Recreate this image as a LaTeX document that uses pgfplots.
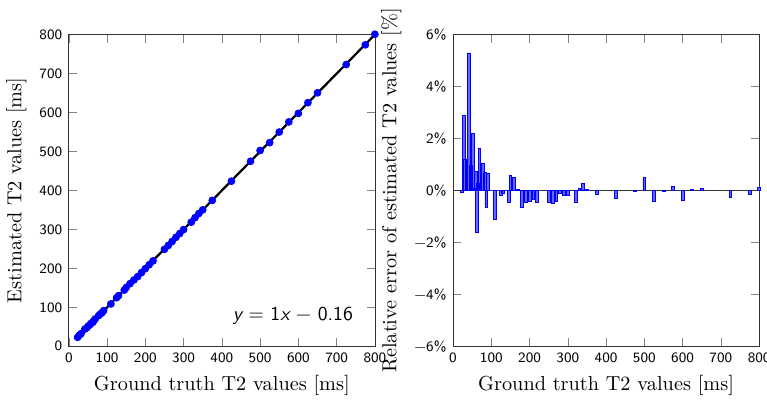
\documentclass[border=0pt]{standalone}
\usepackage{pgfplots}
\usepackage{pgfplotstable}
\pgfplotsset{compat=1.18}
\pgfplotstableread{
x e y
23 -0.09 22.98
28 2.87 28.80
32 1.21 32.39
42 5.29 44.22
47 0.96 47.45
51 2.21 52.13
56 0.09 56.05
59 0.74 59.44
63 -1.62 61.98
65 0.29 65.19
69 1.60 70.10
78 1.03 78.80
83 0.70 83.58
87 -0.65 86.43
91 0.64 91.58
110 -1.12 108.77
125 -0.19 124.76
130 -0.10 129.87
145 -0.45 144.35
150 0.58 150.87
160 0.49 160.78
170 0.05 170.09
180 -0.65 178.83
190 -0.45 189.15
200 -0.41 199.18
210 -0.35 209.27
220 -0.45 219.01
250 -0.46 248.85
260 -0.50 258.70
270 -0.41 268.89
280 -0.12 279.66
290 -0.19 289.45
300 -0.18 299.46
320 -0.45 318.56
330 0.06 330.20
340 0.26 340.88
350 0.03 350.11
375 -0.15 374.44
425 -0.30 423.73
475 -0.04 474.81
500 0.49 502.45
525 -0.44 522.69
550 -0.04 549.78
575 0.15 575.86
600 -0.38 597.72
625 0.04 625.25
650 0.08 650.52
725 -0.26 723.12
775 -0.17 773.68
800 0.10 800.80
}\errtable
\begin{document}
\begin{tikzpicture}
\pgfplotsset{
  every axis/.append style={
    scale only axis,
    width=163pt, height=166pt,
    axis line style={black!80},
    tick align=inside,
    tick style={black!50},
    ticklabel style={font=\fontsize{7.6}{9}\selectfont\sffamily},
    /pgf/number format/assume math mode=true,
    label style={font=\fontsize{10.8}{12.5}\selectfont},
    xmin=0, xmax=800,
    xtick={0,100,...,800},
    clip=false,
  }
}
\begin{axis}[
  at={(0pt,0pt)}, anchor=south west,
  ymin=0, ymax=800,
  ytick={0,100,...,800},
  xlabel={Ground truth T2 values [ms]},
  ylabel={Estimated T2 values [ms]},
]
\addplot[black, line width=1.2pt] coordinates {(20,19.84) (800,799.84)};
\addplot[only marks, mark=*, mark size=1.85pt, blue, mark options={fill=blue, draw=blue}] table[x=x, y=y] {\errtable};
\node[anchor=east, font=\fontsize{10.5}{12}\selectfont\sffamily] at (axis cs:760,77) {\itshape y\upshape{} = 1\itshape x\upshape{} − 0.16};
\end{axis}
\begin{axis}[
  at={(204.6pt,0pt)}, anchor=south west,
  ymin=-6, ymax=6,
  ytick={-6,-4,...,6},
  yticklabels={−6\%,−4\%,−2\%,0\%,2\%,4\%,6\%},
  xlabel={Ground truth T2 values [ms]},
  ylabel={Relative error of estimated T2 values [\%]},
]
\addplot[black!80, line width=0.8pt] coordinates {(0,0) (800,0)};
\addplot[ybar, bar width=1.5pt, draw=blue, fill=blue!60, line width=0.4pt] table[x=x, y=e] {\errtable};
\coordinate (rb) at (rel axis cs:1,0);
\end{axis}
\coordinate (bbsw) at (current bounding box.south west);
\coordinate (bbne) at (current bounding box.north east);
\pgfresetboundingbox
\path[use as bounding box] ([yshift=-2pt]bbsw) rectangle ([xshift=4.2pt,yshift=1pt]rb |- bbne);
\end{tikzpicture}
\end{document}
